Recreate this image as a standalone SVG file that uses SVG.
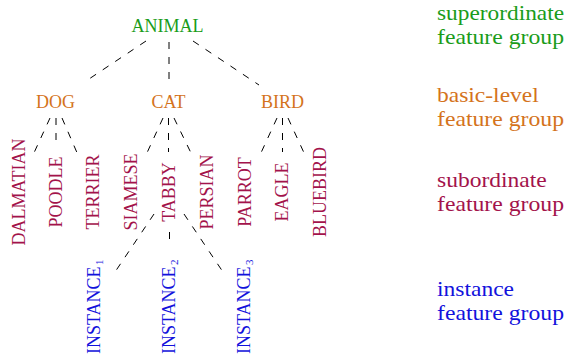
<svg xmlns="http://www.w3.org/2000/svg" width="566" height="360" viewBox="0 0 566 360">
<style>
text{font-family:"Liberation Serif","Times New Roman",serif;font-size:18px}
.sup{fill:#1a9c1a}
.bas{fill:#d4731c}
.sub{fill:#a3134b}
.ins{fill:#1212dc}
.lab{font-size:21.5px}
.con line{stroke:#000;stroke-width:1;stroke-dasharray:7 8;fill:none}
.sc{font-size:11px}
</style>
<rect width="566" height="360" fill="#fff"/>
<g id="connectors" class="con">
<line x1="146" y1="41" x2="86" y2="81"/>
<line x1="169" y1="42" x2="169" y2="81"/>
<line x1="193" y1="41" x2="259" y2="85"/>
<line x1="50" y1="118" x2="33" y2="155"/>
<line x1="56" y1="118" x2="56" y2="141"/>
<line x1="62" y1="118" x2="78" y2="155"/>
<line x1="163" y1="118" x2="146" y2="155"/>
<line x1="168.5" y1="118" x2="168.5" y2="152"/>
<line x1="174" y1="118" x2="192" y2="155"/>
<line x1="277" y1="118" x2="260" y2="155"/>
<line x1="282.5" y1="118" x2="282.5" y2="152"/>
<line x1="288" y1="118" x2="305" y2="155"/>
<line x1="154" y1="214" x2="113" y2="275"/>
<line x1="169.5" y1="232" x2="169.5" y2="246"/>
<line x1="184" y1="214" x2="225" y2="275"/>
</g>
<g id="animal"><text class="sup" x="167.5" y="31.5" text-anchor="middle">ANIMAL</text></g>
<g id="dog"><text class="bas" x="55.5" y="108" text-anchor="middle">DOG</text></g>
<g id="cat"><text class="bas" x="168.5" y="108" text-anchor="middle">CAT</text></g>
<g id="bird"><text class="bas" x="282.5" y="108" text-anchor="middle">BIRD</text></g>
<g id="dalmatian"><text class="sub" transform="translate(25,192) rotate(-90)" text-anchor="middle">DALMATIAN</text></g>
<g id="poodle"><text class="sub" transform="translate(62,192) rotate(-90)" text-anchor="middle">POODLE</text></g>
<g id="terrier"><text class="sub" transform="translate(99,192) rotate(-90)" text-anchor="middle">TERRIER</text></g>
<g id="siamese"><text class="sub" transform="translate(137,192) rotate(-90)" text-anchor="middle">SIAMESE</text></g>
<g id="tabby"><text class="sub" transform="translate(175,192) rotate(-90)" text-anchor="middle">TABBY</text></g>
<g id="persian"><text class="sub" transform="translate(213,192) rotate(-90)" text-anchor="middle">PERSIAN</text></g>
<g id="parrot"><text class="sub" transform="translate(251,192) rotate(-90)" text-anchor="middle">PARROT</text></g>
<g id="eagle"><text class="sub" transform="translate(288,192) rotate(-90)" text-anchor="middle">EAGLE</text></g>
<g id="bluebird"><text class="sub" transform="translate(326,192) rotate(-90)" text-anchor="middle">BLUEBIRD</text></g>
<g id="instance1"><text class="ins" transform="translate(100,354) rotate(-90)">INSTANCE<tspan class="sc" dx="1.5" dy="2.5">1</tspan></text></g>
<g id="instance2"><text class="ins" transform="translate(175,354) rotate(-90)">INSTANCE<tspan class="sc" dx="1.5" dy="2.5">2</tspan></text></g>
<g id="instance3"><text class="ins" transform="translate(250,354) rotate(-90)">INSTANCE<tspan class="sc" dx="1.5" dy="2.5">3</tspan></text></g>
<g id="legend-superordinate"><text class="sup lab" x="437" y="19.5" textLength="127" lengthAdjust="spacingAndGlyphs">superordinate</text><text class="sup lab" x="437" y="43.5" textLength="127" lengthAdjust="spacingAndGlyphs">feature group</text></g>
<g id="legend-basic"><text class="bas lab" x="437" y="102" textLength="101.8" lengthAdjust="spacingAndGlyphs">basic-level</text><text class="bas lab" x="437" y="126" textLength="127" lengthAdjust="spacingAndGlyphs">feature group</text></g>
<g id="legend-subordinate"><text class="sub lab" x="437" y="187" textLength="109.7" lengthAdjust="spacingAndGlyphs">subordinate</text><text class="sub lab" x="437" y="211" textLength="127" lengthAdjust="spacingAndGlyphs">feature group</text></g>
<g id="legend-instance"><text class="ins lab" x="437" y="296" textLength="77" lengthAdjust="spacingAndGlyphs">instance</text><text class="ins lab" x="437" y="320" textLength="127" lengthAdjust="spacingAndGlyphs">feature group</text></g>
</svg>
